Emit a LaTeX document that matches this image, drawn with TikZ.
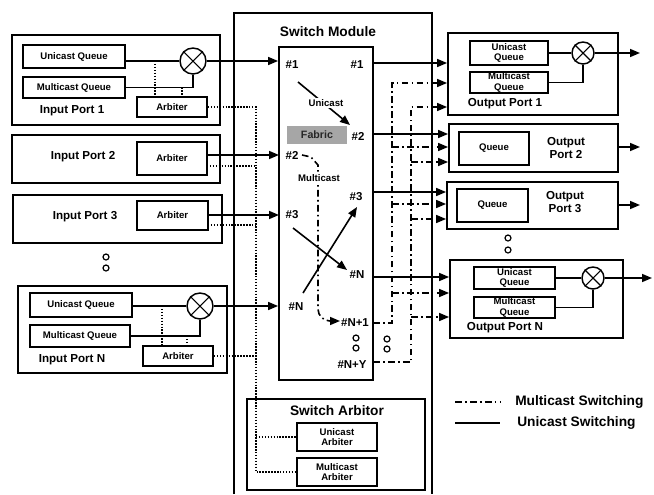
\documentclass[tikz,border=0pt]{standalone}
\usepackage{fontspec}
\setmainfont{Liberation Sans}
\usetikzlibrary{arrows.meta,calc}
\begin{document}
\begin{tikzpicture}[x=0.75pt,y=-0.75pt,
  px/.style 2 args={minimum width=#1*0.75pt, minimum height=#2*0.75pt},
  box/.style={draw, line width=1.4pt, inner sep=0pt},
  thinbox/.style={draw, line width=0.8pt},
  mux/.style={draw, circle, line width=1.1pt, inner sep=0pt, minimum size=#1*0.75pt},
  big/.style={font=\bfseries\fontsize{10.3}{12}\selectfont},
  portlbl/.style={font=\bfseries\fontsize{8.7}{10}\selectfont, align=center},
  tiny/.style={font=\bfseries\fontsize{7.2}{9}\selectfont, align=center},
  pin/.style={font=\bfseries\fontsize{8.6}{10}\selectfont, inner sep=0.5pt},
  tip/.style={-{Triangle[length=7.5pt,width=6pt]}},
  uni/.style={line width=1.2pt, tip},
  multi/.style={line width=1.2pt, dash pattern=on 5pt off 2.5pt on 1.2pt off 2.5pt},
  ctrl/.style={line width=1.1pt, dash pattern=on 1.1pt off 1.1pt},
  hole/.style={draw, circle, line width=0.9pt, inner sep=0pt, minimum size=4.5pt},
]
\useasboundingbox (0,0) rectangle (654,494);

% ---------------- switch module (open at the bottom) ----------------
\draw[line width=0.8pt] (234,494) -- (234,13) -- (432,13) -- (432,494);
\node[big] (smt) at (328,32) {Switch Module};
\node[box, px={94}{333}] (fab) at (326,213.5) {};

% ---------------- input ports ----------------
% port 1
\node[box, px={208}{90}] (ip1) at (116,80) {};
\node[box, px={102}{23}, tiny] (uq1) at (74,56.5) {Unicast Queue};
\node[box, px={102}{21}, tiny] (mq1) at (74,87.5) {Multicast Queue};
\node[mux=26] (mux1) at (193,61) {};
\draw[line width=0.8pt] (mux1.north east) -- (mux1.south west) (mux1.north west) -- (mux1.south east);
\node[box, px={70}{20}, tiny] (arb1) at (172,107) {Arbiter};
\node[portlbl] (ip1l) at (72,111) {Input Port 1};
\draw[line width=1.1pt] (uq1.east |- mux1.west) -- (mux1.west);
\draw[line width=1.1pt] (mq1.east) -| (mux1.south);
\coordinate (t1a) at (155,61);
\coordinate (t1b) at (182,87.5);
\draw[ctrl] (t1a) -- (t1a |- arb1.north);
\draw[ctrl] (t1b) -- (t1b |- arb1.north);

% port 2
\node[box, px={208}{48}] (ip2) at (116,159) {};
\node[box, px={70}{33}, tiny] (arb2) at (172,158.5) {Arbiter};
\node[portlbl] (ip2l) at (83,157) {Input Port 2};

% port 3
\node[box, px={209}{48}] (ip3) at (117.5,219) {};
\node[box, px={71}{29}, tiny] (arb3) at (172.5,215.5) {Arbiter};
\node[portlbl] (ip3l) at (85,217) {Input Port 3};

\node[hole] (idot1) at (106,257) {};
\node[hole] (idot2) at (106,268) {};

% port N
\node[box, px={209}{87}] (ipn) at (122.5,329.5) {};
\node[box, px={102}{24}, tiny] (uqn) at (81,305) {Unicast Queue};
\node[box, px={100}{22}, tiny] (mqn) at (80,336) {Multicast Queue};
\node[mux=26] (muxn) at (200,306) {};
\draw[line width=0.8pt] (muxn.north east) -- (muxn.south west) (muxn.north west) -- (muxn.south east);
\node[box, px={70}{20}, tiny] (arbn) at (178,356) {Arbiter};
\node[portlbl] (ipnl) at (72,360) {Input Port N};
\draw[line width=1.1pt] (uqn.east |- muxn.west) -- (muxn.west);
\draw[line width=1.1pt] (mqn.east) -| (muxn.south);
\coordinate (tna) at (162,306);
\coordinate (tnb) at (187,336);
\draw[ctrl] (tna) -- (tna |- arbn.north);
\draw[ctrl] (tnb) -- (tnb |- arbn.north);

% ---------------- inputs into the fabric ----------------
\coordinate (fi2) at (279,155);
\coordinate (fi3) at (279,215);
\draw[uni] (mux1.east) -- (mux1.east -| fab.west);
\draw[uni] (fi2 -| arb2.east) -- (fi2);
\draw[uni] (fi3 -| arb3.east) -- (fi3);
\draw[uni] (muxn.east) -- (muxn.east -| fab.west);

% ---------------- switch arbitor ----------------
\node[box, px={178}{91}] (sarb) at (336,444.5) {};
\node[big] (sarbl) at (337,411) {Switch Arbitor};
\node[box, px={80}{28}, tiny] (uarb) at (337,437) {Unicast\\[-1pt]Arbiter};
\node[box, px={80}{28}, tiny] (marb) at (337,472) {Multicast\\[-1pt]Arbiter};

% control lines from the port arbiters
\coordinate (tk) at (256,0);
\coordinate (c2) at (207,166);
\coordinate (c3) at (208,225);
\draw[ctrl] (arb1.east) -| (marb.west -| tk) -- (marb.west);
\draw[ctrl] (c2) -- (c2 -| tk);
\draw[ctrl] (c3) -- (c3 -| tk);
\draw[ctrl] (arbn.east) -- (arbn.east -| tk);
\draw[ctrl] (uarb.west -| tk) -- (uarb.west);

% ---------------- fabric labels ----------------
\node[pin] (a1) at (292,65) {\#1};
\node[pin] (a2) at (292,155) {\#2};
\node[pin] (a3) at (292,215) {\#3};
\node[pin] (an) at (296,307) {\#N};
\node[pin] (b1) at (357,65) {\#1};
\node[pin] (b2) at (358,136) {\#2};
\node[pin] (b3) at (356,197) {\#3};
\node[pin] (bn) at (357,275) {\#N};
\node[pin] (bn1) at (355,323) {\#N+1};
\node[pin] (bny) at (352,365) {\#N+Y};
\node[hole] (fdot1) at (356,338) {};
\node[hole] (fdot2) at (356,348) {};
\node[fill=black!35, minimum width=45pt, minimum height=14pt, inner sep=0pt,
      font=\bfseries\fontsize{8}{9}\selectfont, text=black!85] (fabl) at (317,135) {Fabric};

% unicast route through the fabric
\coordinate (u0) at (298,82);
\coordinate (u1) at (350,125);
\draw[uni] (u0) -- (u1);
\node[tiny, fill=white, inner sep=1pt] (ulbl) at (326,103) {Unicast};

% multicast route through the fabric
\coordinate (m0) at (302,155);
\coordinate (m1) at (340,321);
\draw[multi, tip] (m0) -- (311,157) -- (318,165) -- (318,309) to[out=90+180,in=180] (330,321) -- (m1);
\node[tiny, fill=white, inner sep=1pt] (mlbl) at (319,178) {Multicast};

% crossing unicast routes
\coordinate (x0) at (293,228);
\coordinate (x1) at (347,270);
\coordinate (y0) at (303,293);
\coordinate (y1) at (357,207);
\draw[uni] (x0) -- (x1);
\draw[uni] (y0) -- (y1);

% ---------------- output ports ----------------
% port 1
\node[box, px={170}{82}] (op1) at (533,74) {};
\node[box, px={78}{24}, tiny] (ouq1) at (509,53) {Unicast\\[-1pt]Queue};
\node[box, px={78}{21}, tiny] (omq1) at (509,82.5) {Multicast\\[-1pt]Queue};
\node[mux=22] (omux1) at (583,53) {};
\draw[line width=0.8pt] (omux1.north east) -- (omux1.south west) (omux1.north west) -- (omux1.south east);
\node[portlbl] (op1l) at (505,104) {Output Port 1};
\draw[line width=1.1pt] (ouq1.east) -- (omux1.west);
\draw[line width=1.1pt] (omq1.east) -| (omux1.south);
\coordinate (o1) at (640,53);
\draw[uni] (omux1.east) -- (o1);

% port 2
\node[box, px={169}{48}] (op2) at (533.5,148) {};
\node[box, px={70}{33}, tiny] (oq2) at (494,148.5) {Queue};
\node[portlbl] (op2l) at (566,148) {Output\\Port 2};
\coordinate (o2) at (640,147);
\draw[uni] (o2 -| op2.east) -- (o2);

% port 3
\node[box, px={171}{47}] (op3) at (532.5,205.5) {};
\node[box, px={71}{33}, tiny] (oq3) at (492.5,205.5) {Queue};
\node[portlbl] (op3l) at (565,202) {Output\\Port 3};
\coordinate (o3) at (640,205);
\draw[uni] (o3 -| op3.east) -- (o3);

\node[hole] (odot1) at (508,238) {};
\node[hole] (odot2) at (508,250) {};

% port N
\node[box, px={173}{78}] (opn) at (536.5,299) {};
\node[box, px={81}{22}, tiny] (ouqn) at (514.5,278) {Unicast\\[-1pt]Queue};
\node[box, px={81}{21}, tiny] (omqn) at (514.5,307.5) {Multicast\\[-1pt]Queue};
\node[mux=22] (omuxn) at (593,278) {};
\draw[line width=0.8pt] (omuxn.north east) -- (omuxn.south west) (omuxn.north west) -- (omuxn.south east);
\node[portlbl] (opnl) at (505,328) {Output Port N};
\draw[line width=1.1pt] (ouqn.east) -- (omuxn.west);
\draw[line width=1.1pt] (omqn.east) -| (omuxn.south);
\coordinate (on) at (652,278);
\draw[uni] (omuxn.east) -- (on);

% ---------------- fabric outputs: unicast ----------------
\coordinate (f1) at (373,63);
\coordinate (f2) at (373,134);
\coordinate (f3) at (373,192);
\coordinate (fn) at (373,277);
\draw[uni] (f1) -- (f1 -| op1.west);
\draw[uni] (f2) -- (f2 -| op2.west);
\draw[uni] (f3) -- (f3 -| op3.west);
\draw[uni] (fn) -- (fn -| opn.west);

% ---------------- fabric outputs: multicast ----------------
\coordinate (fn1) at (373,323);
\coordinate (fny) at (373,362);
\coordinate (ta) at (392,0);
\coordinate (tb) at (411,0);
\coordinate (p1a) at (0,83);
\coordinate (p1b) at (0,107);
\coordinate (p2a) at (0,147);
\coordinate (p2b) at (0,162);
\coordinate (p3a) at (0,204);
\coordinate (p3b) at (0,219);
\coordinate (pna) at (0,293);
\coordinate (pnb) at (0,317);
\draw[multi, tip] (fn1) -- (fn1 -| ta) -- (p1a -| ta) -- (p1a -| op1.west);
\draw[multi, tip] (p2a -| ta) -- (p2a -| op2.west);
\draw[multi, tip] (p3a -| ta) -- (p3a -| op3.west);
\draw[multi, tip] (pna -| ta) -- (pna -| opn.west);
\draw[multi, tip] (fny) -- (fny -| tb) -- (p1b -| tb) -- (p1b -| op1.west);
\draw[multi, tip] (p2b -| tb) -- (p2b -| op2.west);
\draw[multi, tip] (p3b -| tb) -- (p3b -| op3.west);
\draw[multi, tip] (pnb -| tb) -- (pnb -| opn.west);
\node[hole] (mdot1) at (387,339) {};
\node[hole] (mdot2) at (387,349) {};

% ---------------- legend ----------------
\coordinate (lm0) at (455,402);
\coordinate (lm1) at (500,402);
\coordinate (lu0) at (455,423);
\coordinate (lu1) at (500,423);
\draw[line width=0.9pt, dash pattern=on 5pt off 2.5pt on 1.2pt off 2.5pt] (lm0) -- (lm1);
\draw[line width=0.8pt] (lu0) -- (lu1);
\node[big, anchor=west, inner sep=0pt] (lml) at (515,402) {Multicast Switching};
\node[big, anchor=west, inner sep=0pt] (lul) at (517,423) {Unicast Switching};
\end{tikzpicture}
\end{document}
